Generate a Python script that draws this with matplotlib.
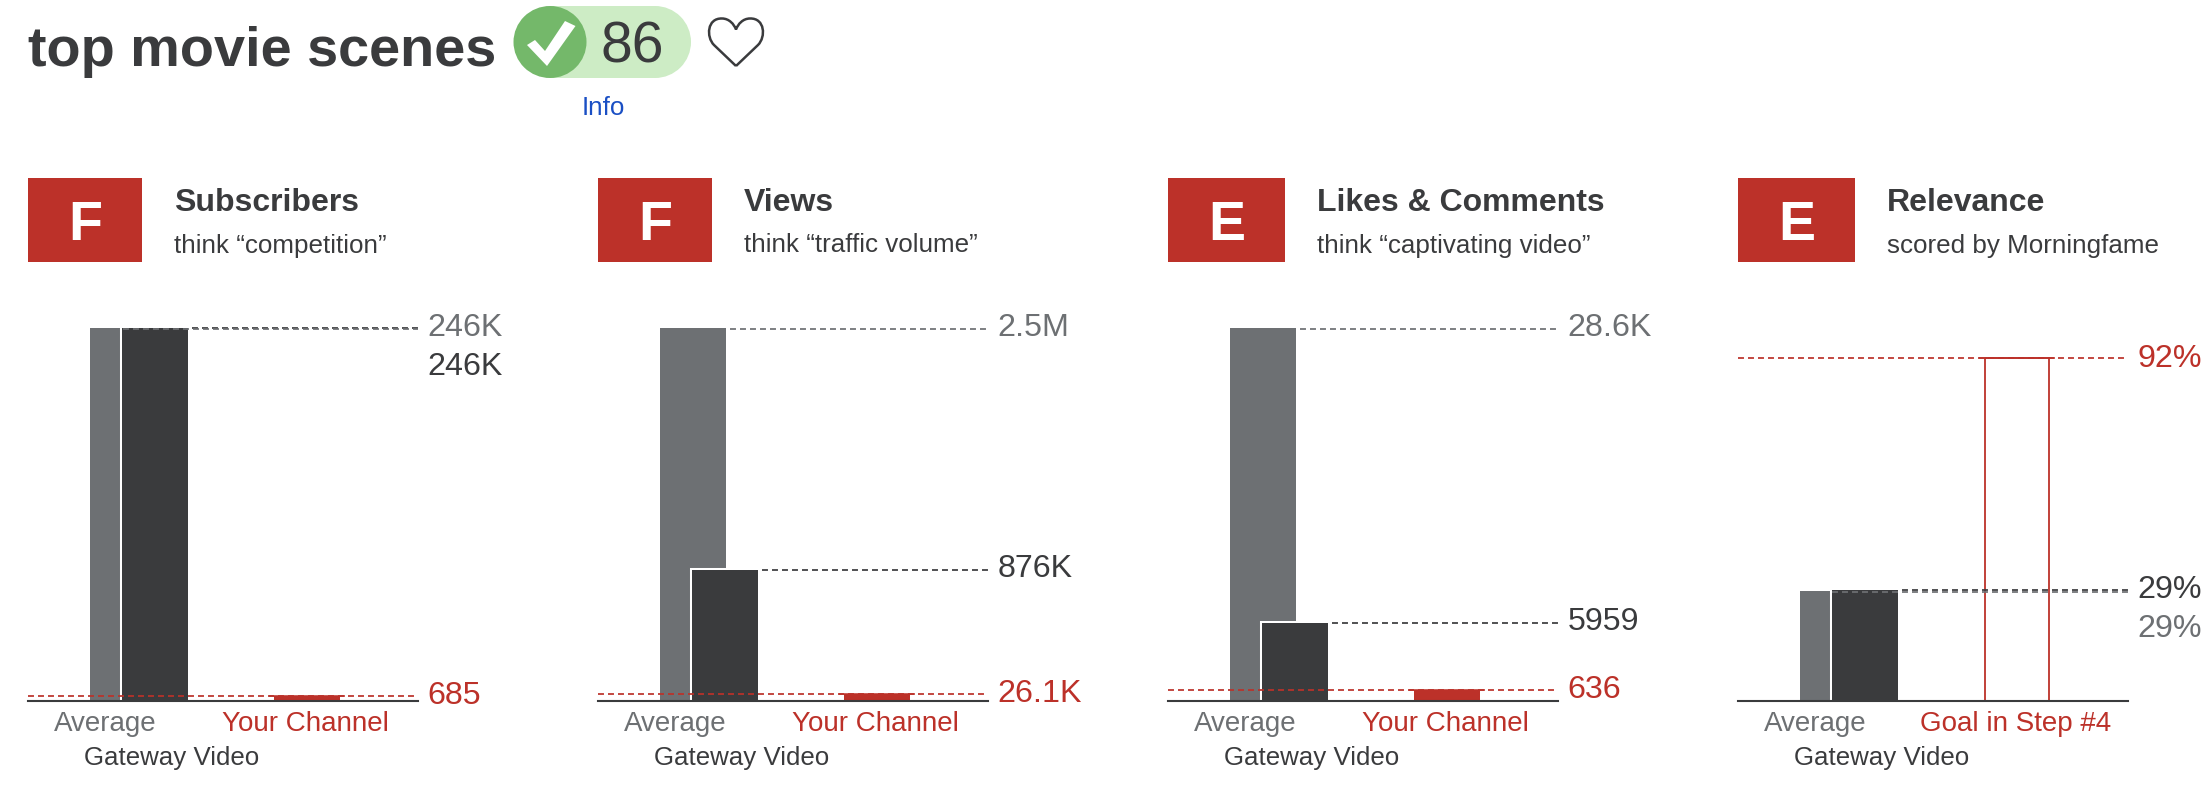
import matplotlib
matplotlib.use("Agg")
import matplotlib.pyplot as plt
from matplotlib.patches import Rectangle, Ellipse, Polygon, PathPatch
from matplotlib.path import Path
from matplotlib.transforms import Affine2D

plt.rcParams['font.family'] = ['Liberation Sans', 'DejaVu Sans']
plt.rcParams['lines.scale_dashes'] = False

# ---- data ----
chart_title = "top movie scenes"
score = "86"
grades = ["F", "F", "E", "E"]
metrics = ["Subscribers", "Views", "Likes & Comments", "Relevance"]
subtitles = ["think \u201ccompetition\u201d", "think \u201ctraffic volume\u201d",
             "think \u201ccaptivating video\u201d", "scored by Morningfame"]
average_values = [246000, 2500000, 28600, 29.3]
channel_values = [246000, 876000, 5959, 29.8]
target_heights = [3080, 44700, 819, 92]   # heights as drawn in the picture
axis_maxima = [246000, 2500000, 28600, 100]
average_labels = ["246K", "2.5M", "28.6K", "29%"]
channel_labels = ["246K", "876K", "5959", "29%"]
target_labels = ["685", "26.1K", "636", "92%"]
target_names = ["Your Channel", "Your Channel", "Your Channel", "Goal in Step #4"]

# ---- layout (pixels) ----
W, H = 2212, 792
DARK, GREY, RED = "#3A3B3D", "#6D7073", "#BC3129"
panel_left = [28, 598, 1168, 1738]
box_width = [114, 114, 117, 117]
text_dx = [146, 146, 149, 149]
AX_W, AX_TOP, AX_BASE = 390, 328, 700.7
avg_label_y = [336, 336, 336, 637]
chan_label_y = [375, 577, 630, 598]
targ_label_y = [704, 702, 697.5, 367]
avg_dash_start = [95, 132, 132, 94]
chan_dash_start = [164, 164, 164, 164]
DASH = (0, (4.3, 2.9))
LW = 1.25

fig = plt.figure(figsize=(W / 100, H / 100), dpi=100, facecolor="white")

for i in range(4):
    ax = fig.add_axes([panel_left[i] / W, 1 - AX_BASE / H, AX_W / W, (AX_BASE - AX_TOP) / H])
    ax.set_xlim(0, AX_W)
    ax.set_ylim(0, axis_maxima[i])
    ax.patch.set_alpha(0)
    ax.set_xticks([]); ax.set_yticks([])
    for s in ["top", "left", "right"]:
        ax.spines[s].set_visible(False)
    ax.spines["bottom"].set_color(DARK)
    ax.spines["bottom"].set_linewidth(1.5)
    ax.spines["bottom"].set_zorder(6)
    tr = ax.transData + Affine2D().translate(0, -1)

    ax.bar(95, average_values[i], width=66, color=GREY, linewidth=0, zorder=2, clip_on=False)
    # white halo behind the channel bar
    ax.bar(127, channel_values[i], width=66, color="white", edgecolor="white", linewidth=2.9,
           zorder=2.5, clip_on=False)
    ax.bar(127, channel_values[i], width=66, color=DARK, linewidth=0, zorder=3, clip_on=False)

    t = target_heights[i]
    if i < 3:
        ax.bar(279, t, width=66, color=RED, linewidth=0, zorder=4)
    else:
        ax.bar(279, t, width=64, facecolor="none", edgecolor=RED, linewidth=1.3, zorder=4)
    ax.plot([241, 317], [t, t], color=RED, lw=1.1, zorder=5, solid_capstyle="butt")
    ax.plot([0, 387], [t, t], color=RED, lw=LW, ls=DASH, zorder=5)

    ax.plot([chan_dash_start[i], AX_W], [channel_values[i]] * 2, color=DARK, lw=LW, ls=DASH,
            zorder=4, clip_on=False)
    ax.plot([avg_dash_start[i], AX_W], [average_values[i]] * 2, color=GREY, lw=LW, ls=DASH,
            zorder=4, transform=tr, clip_on=False)

# overlay in pixel space for header and text
ov = fig.add_axes([0, 0, 1, 1])
ov.set_xlim(0, W); ov.set_ylim(H, 0)
ov.axis("off"); ov.patch.set_alpha(0)

def txt(x, y, s, size, color=DARK, weight="normal", ha="left", va="baseline"):
    ov.text(x, y, s, fontsize=size, color=color, fontweight=weight, ha=ha, va=va)

# header
txt(28, 65.7, chart_title, 40.2, DARK, "bold")
ov.add_patch(Rectangle((550, 6), 105, 72, fc="#CDECC5", ec="none"))
ov.add_patch(Ellipse((655, 42), 72, 72, fc="#CDECC5", ec="none"))
ov.add_patch(Ellipse((550, 42), 73, 72, fc="#74B86A", ec="none"))
ov.add_patch(Polygon([(527, 45), (535, 40), (545, 51), (565, 21), (575.5, 26), (547, 66)],
                     closed=True, fc="white", ec="none"))
txt(632.5, 62.5, score, 41, DARK, ha="center")
txt(603.5, 115, "Info", 18.7, "#1A4FC4", ha="center")

cx = 736
verts = [(cx, 66), (cx - 22, 45),
         (cx - 30, 37), (cx - 29, 18), (cx - 14, 18.5),
         (cx - 7, 18.5), (cx - 2, 24), (cx, 29.5),
         (cx + 2, 24), (cx + 7, 18.5), (cx + 14, 18.5),
         (cx + 29, 18), (cx + 30, 37), (cx + 22, 45),
         (cx, 66)]
codes = [Path.MOVETO, Path.LINETO] + [Path.CURVE4] * 12 + [Path.LINETO]
ov.add_patch(PathPatch(Path(verts, codes), fc="none", ec=DARK, lw=1.8, joinstyle="miter"))

for i in range(4):
    L = panel_left[i]
    ov.add_patch(Rectangle((L, 178), box_width[i], 84, fc=RED, ec="none"))
    txt(L + box_width[i] / 2, 240, grades[i], 40, "white", "bold", ha="center")
    txt(L + text_dx[i], 211.2, metrics[i], 23, DARK, "bold")
    txt(L + text_dx[i], 252.5, subtitles[i], 18.7, DARK)
    lx = L + 399.5
    txt(lx, avg_label_y[i], average_labels[i], 23.2, GREY)
    txt(lx, chan_label_y[i], channel_labels[i], 23.2, DARK)
    txt(lx, targ_label_y[i], target_labels[i], 23.2, RED)
    txt(L + 77.5, 730.7, "Average", 20, GREY, ha="center")
    txt(L + 277.5, 730.7, target_names[i], 20, RED, ha="center")
    txt(L + 144, 765, "Gateway Video", 18.6, DARK, ha="center")

fig.savefig("out.png", dpi=100, facecolor="white")
